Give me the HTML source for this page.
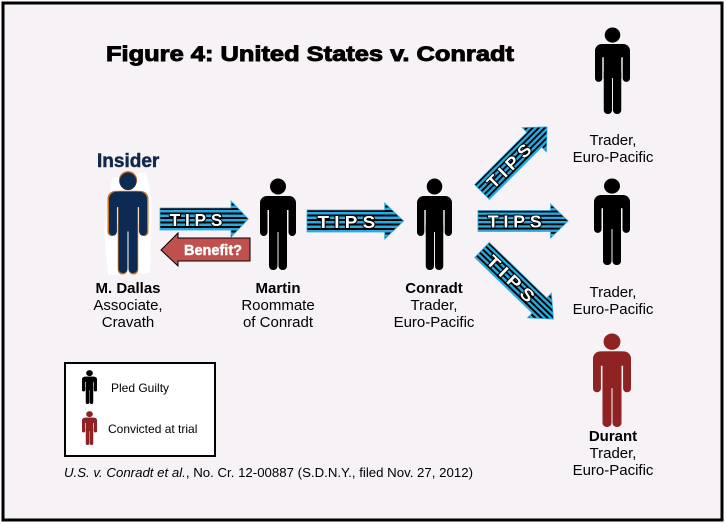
<!DOCTYPE html>
<html><head><meta charset="utf-8"><style>
html,body{margin:0;padding:0;background:#fff;}
svg{display:block;font-family:"Liberation Sans",Arial,sans-serif;}
</style></head><body>
<svg width="726" height="524" viewBox="0 0 726 524" xmlns="http://www.w3.org/2000/svg">
<defs>
<pattern id="st" patternUnits="userSpaceOnUse" width="8" height="4.5">
<rect width="8" height="2.5" fill="#29abe2"/><rect y="2.5" width="8" height="2" fill="#000"/>
</pattern>
<symbol id="p" viewBox="0 0 36 92" preserveAspectRatio="none">
<circle cx="18" cy="8.5" r="8"/>
<rect x="0" y="18" width="36" height="14" rx="7"/>
<rect x="0" y="22" width="7.5" height="36" rx="3.7"/>
<rect x="28.5" y="22" width="7.5" height="36" rx="3.7"/>
<rect x="9" y="18" width="18" height="36"/>
<rect x="9" y="44" width="8.5" height="48" rx="4"/>
<rect x="18.5" y="44" width="8.5" height="48" rx="4"/>
</symbol>
<g id="arr">
<path d="M0,-11 H74 V-18 L92,0 L74,18 V11 H0 Z" fill="url(#st)" stroke="#29abe2" stroke-width="0.8"/>
<text x="40" y="7" text-anchor="middle" font-size="18" font-weight="bold" fill="#fff" stroke="#000" stroke-width="2" paint-order="stroke" letter-spacing="5">TIPS</text>
</g>
</defs>
<rect x="0" y="0" width="726" height="524" fill="#fff"/>
<rect x="3" y="3" width="719" height="517" fill="#f6f2f6" stroke="#000" stroke-width="3"/>

<text x="106" y="61" font-size="21" font-weight="bold" stroke="#000" stroke-width="0.9" textLength="408" lengthAdjust="spacingAndGlyphs">Figure 4: United States v. Conradt</text>
<text x="97" y="167" font-size="19" font-weight="bold" fill="#13294b" stroke="#13294b" stroke-width="0.5">Insider</text>

<!-- Dallas -->
<path d="M112,178 L146,172 L152,200 L150,273 L108,275 L104,230 Z" fill="#fff"/>
<svg x="107.5" y="170.5" width="41" height="104" fill="#c8701e"><use href="#p"/></svg>
<svg x="109" y="172" width="38" height="101" fill="#0d2b52"><use href="#p"/></svg>
<svg x="260" y="178" width="36" height="92" fill="#000"><use href="#p"/></svg>
<svg x="417" y="178" width="35" height="92" fill="#000"><use href="#p"/></svg>
<svg x="595" y="27" width="35" height="87" fill="#000"><use href="#p"/></svg>
<svg x="594" y="178" width="36" height="87" fill="#000"><use href="#p"/></svg>
<svg x="593" y="333" width="38" height="94" fill="#8f2222"><use href="#p"/></svg>

<!-- arrows -->
<use href="#arr" transform="translate(160,219) scale(0.96,1)"/>
<use href="#arr" transform="translate(307,221) scale(1.05,1)"/>
<use href="#arr" transform="translate(478,221) scale(0.98,0.95)"/>
<use href="#arr" transform="translate(482,192) rotate(-45) scale(1.0,0.95)"/>
<use href="#arr" transform="translate(482,250) rotate(44) scale(1.08,0.95)"/>

<!-- benefit -->
<path d="M250,238 H178 V233 L161,250 L178,266 V261 H250 Z" fill="#c0504d" stroke="#000" stroke-width="1"/>
<text x="213" y="255" text-anchor="middle" font-size="14.5" font-weight="bold" fill="#fff" stroke="#fff" stroke-width="0.4">Benefit?</text>

<g font-size="15" text-anchor="middle">
<text x="128" y="293" font-weight="bold">M. Dallas</text>
<text x="128" y="310">Associate,</text>
<text x="128" y="327">Cravath</text>
<text x="278" y="293" font-weight="bold">Martin</text>
<text x="278" y="310">Roommate</text>
<text x="278" y="327">of Conradt</text>
<text x="434" y="293" font-weight="bold">Conradt</text>
<text x="434" y="310">Trader,</text>
<text x="434" y="327">Euro-Pacific</text>
<text x="613" y="145">Trader,</text>
<text x="613" y="162">Euro-Pacific</text>
<text x="613" y="297">Trader,</text>
<text x="613" y="314">Euro-Pacific</text>
<text x="613" y="441" font-weight="bold">Durant</text>
<text x="613" y="458">Trader,</text>
<text x="613" y="475">Euro-Pacific</text>
</g>

<!-- legend -->
<rect x="65" y="363" width="150" height="93" fill="#fff" stroke="#000" stroke-width="2"/>
<svg x="82" y="370" width="15" height="34" fill="#000"><use href="#p"/></svg>
<svg x="82" y="411" width="15" height="34" fill="#8f2222"><use href="#p"/></svg>
<text x="111" y="392" font-size="12">Pled Guilty</text>
<text x="108" y="433" font-size="12">Convicted  at trial</text>

<text x="64" y="477" font-size="12.5" textLength="409" lengthAdjust="spacingAndGlyphs"><tspan font-style="italic">U.S. v. Conradt  et al.</tspan>, No. Cr. 12-00887  (S.D.N.Y., filed Nov. 27, 2012)</text>
</svg>
</body></html>
